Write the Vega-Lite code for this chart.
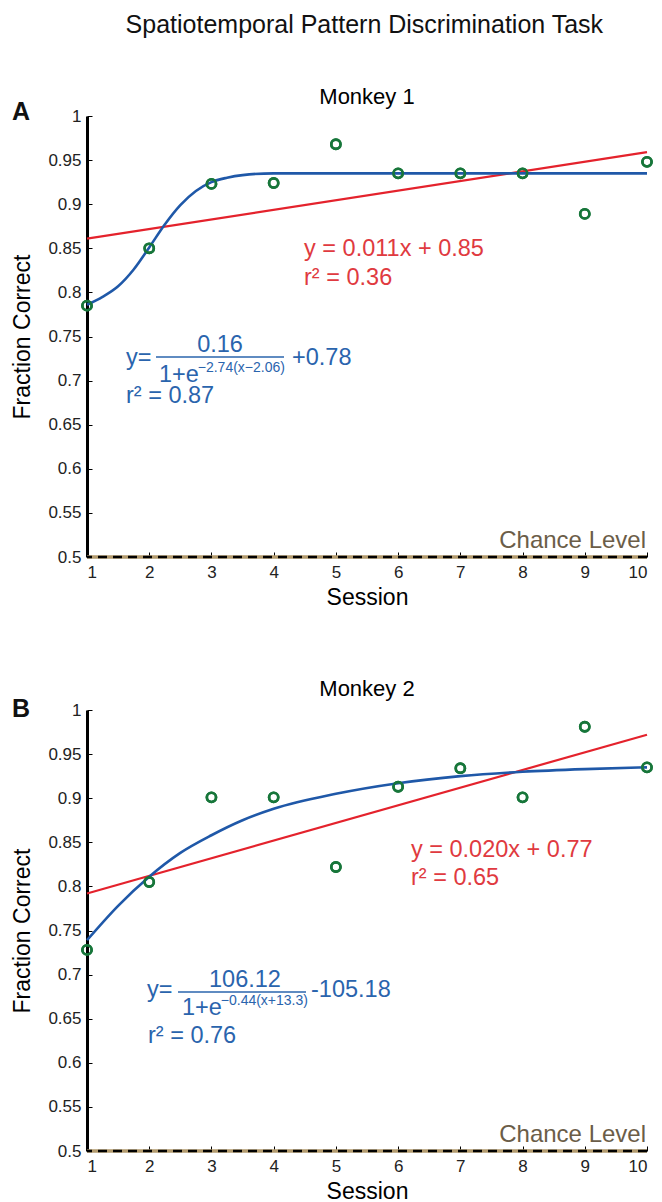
{
  "$schema": "https://vega.github.io/schema/vega-lite/v6.json",
  "background": "white",
  "padding": {"left": 11, "top": 12, "right": 4, "bottom": 2},
  "title": {"text": "Spatiotemporal Pattern Discrimination Task", "font": "Liberation Sans", "fontSize": 25, "fontWeight": "normal", "color": "#111", "offset": 48, "anchor": "middle", "dx": 30},
  "spacing": 69,
  "config": {
    "view": {"stroke": null},
    "font": "Liberation Sans",
    "axis": {"labelFont": "Liberation Sans", "titleFont": "Liberation Sans", "labelFontSize": 17, "titleFontSize": 23, "titleFontWeight": "normal", "labelColor": "#222", "titleColor": "#000", "tickColor": "#000", "tickWidth": 1, "grid": false},
    "axisY": {"domainColor": "#000", "domainWidth": 3, "tickSize": -5, "labelPadding": 11, "titlePadding": 13},
    "axisX": {"domain": false, "tickSize": -5, "labelPadding": 12, "titlePadding": 6},
    "title": {"font": "Liberation Sans", "fontSize": 22, "fontWeight": "normal", "color": "#000"}
  },
  "datasets": {
    "one": [{"k": 1}],
    "m1pts": [
      {"session": 1, "frac": 0.785}, {"session": 2, "frac": 0.85}, {"session": 3, "frac": 0.923},
      {"session": 4, "frac": 0.924}, {"session": 5, "frac": 0.968}, {"session": 6, "frac": 0.935},
      {"session": 7, "frac": 0.935}, {"session": 8, "frac": 0.935}, {"session": 9, "frac": 0.889},
      {"session": 10, "frac": 0.948}
    ],
    "m1sig": [
      {"session": 1, "frac": 0.786}, {"session": 1.25, "frac": 0.795}, {"session": 1.5, "frac": 0.807},
      {"session": 1.75, "frac": 0.826}, {"session": 2, "frac": 0.851}, {"session": 2.25, "frac": 0.877},
      {"session": 2.5, "frac": 0.899}, {"session": 2.75, "frac": 0.915}, {"session": 3, "frac": 0.925},
      {"session": 3.25, "frac": 0.93}, {"session": 3.5, "frac": 0.933}, {"session": 4, "frac": 0.935},
      {"session": 5, "frac": 0.935}, {"session": 6, "frac": 0.935}, {"session": 7, "frac": 0.935},
      {"session": 8, "frac": 0.935}, {"session": 9, "frac": 0.935}, {"session": 10, "frac": 0.935}
    ],
    "m1lin": [{"session": 1, "frac": 0.861}, {"session": 10, "frac": 0.959}],
    "m2pts": [
      {"session": 1, "frac": 0.728}, {"session": 2, "frac": 0.805}, {"session": 3, "frac": 0.901},
      {"session": 4, "frac": 0.901}, {"session": 5, "frac": 0.822}, {"session": 6, "frac": 0.913},
      {"session": 7, "frac": 0.934}, {"session": 8, "frac": 0.901}, {"session": 9, "frac": 0.981},
      {"session": 10, "frac": 0.935}
    ],
    "m2sig": [
      {"session": 1, "frac": 0.739}, {"session": 1.5, "frac": 0.778}, {"session": 2, "frac": 0.811},
      {"session": 2.5, "frac": 0.838}, {"session": 3, "frac": 0.858}, {"session": 3.5, "frac": 0.875},
      {"session": 4, "frac": 0.888}, {"session": 5, "frac": 0.905}, {"session": 6, "frac": 0.917},
      {"session": 7, "frac": 0.925}, {"session": 8, "frac": 0.93}, {"session": 9, "frac": 0.933},
      {"session": 10, "frac": 0.935}
    ],
    "m2lin": [{"session": 1, "frac": 0.792}, {"session": 10, "frac": 0.972}]
  },
  "vconcat": [
    {
      "width": 560, "height": 441,
      "title": {"text": "Monkey 1", "frame": "group", "offset": -9},
      "layer": [
        {"data": {"name": "m1pts"}, "mark": {"type": "point", "shape": "circle", "filled": false, "color": "#17763a", "size": 85, "strokeWidth": 2.6, "opacity": 1},
         "encoding": {
           "x": {"field": "session", "type": "quantitative", "scale": {"domain": [1, 10], "nice": false, "zero": false},
                 "axis": {"title": "Session", "values": [1, 2, 3, 4, 5, 6, 7, 8, 9, 10], "format": "d"}},
           "y": {"field": "frac", "type": "quantitative", "scale": {"domain": [0.5, 1], "nice": false, "zero": false},
                 "axis": {"title": "Fraction Correct", "values": [0.5, 0.55, 0.6, 0.65, 0.7, 0.75, 0.8, 0.85, 0.9, 0.95, 1], "format": "~g"}}
         }},
        {"data": {"name": "one"}, "mark": {"type": "rule", "color": "#b39b6e", "strokeWidth": 3.5},
         "encoding": {"y": {"datum": 0.5}}},
        {"data": {"name": "one"}, "mark": {"type": "rule", "color": "#000", "strokeWidth": 2.5, "strokeDash": [9, 6]},
         "encoding": {"y": {"datum": 0.5}}},
        {"data": {"name": "m1lin"}, "mark": {"type": "line", "color": "#e4222c", "strokeWidth": 2.2},
         "encoding": {"x": {"field": "session", "type": "quantitative"}, "y": {"field": "frac", "type": "quantitative"}}},
        {"data": {"name": "m1sig"}, "mark": {"type": "line", "color": "#1f58a8", "strokeWidth": 2.6, "interpolate": "monotone"},
         "encoding": {"x": {"field": "session", "type": "quantitative"}, "y": {"field": "frac", "type": "quantitative"}}},
        {"data": {"name": "m1pts"}, "mark": {"type": "point", "shape": "circle", "filled": false, "color": "#17763a", "size": 85, "strokeWidth": 2.6, "opacity": 1},
         "encoding": {"x": {"field": "session", "type": "quantitative"}, "y": {"field": "frac", "type": "quantitative"}}},
        {"data": {"name": "one"}, "mark": {"type": "text", "text": "A", "fontSize": 25, "fontWeight": "bold", "align": "center", "baseline": "alphabetic", "color": "#111"},
         "encoding": {"x": {"datum": -0.061}, "y": {"datum": 0.9955}}},
        {"data": {"name": "one"}, "mark": {"type": "text", "text": "y = 0.011x + 0.85", "fontSize": 23.5, "align": "left", "baseline": "alphabetic", "color": "#e03a40"},
         "encoding": {"x": {"datum": 4.488}, "y": {"datum": 0.8413}}},
        {"data": {"name": "one"}, "mark": {"type": "text", "text": "r² = 0.36", "fontSize": 23.5, "align": "left", "baseline": "alphabetic", "color": "#e03a40"},
         "encoding": {"x": {"datum": 4.488}, "y": {"datum": 0.8084}}},
        {"data": {"name": "one"}, "mark": {"type": "text", "text": "y=", "fontSize": 23.5, "align": "left", "baseline": "alphabetic", "color": "#2a64ad"},
         "encoding": {"x": {"datum": 1.627}, "y": {"datum": 0.7177}}},
        {"data": {"name": "one"}, "mark": {"type": "text", "text": "0.16", "fontSize": 23.5, "align": "center", "baseline": "alphabetic", "color": "#2a64ad"},
         "encoding": {"x": {"datum": 3.138}, "y": {"datum": 0.7324}}},
        {"data": {"name": "one"}, "mark": {"type": "rule", "color": "#2a64ad", "strokeWidth": 1.5},
         "encoding": {"x": {"datum": 2.109}, "x2": {"datum": 4.166}, "y": {"datum": 0.7268}}},
        {"data": {"name": "one"}, "mark": {"type": "text", "text": "1+e", "fontSize": 23.5, "align": "left", "baseline": "alphabetic", "color": "#2a64ad"},
         "encoding": {"x": {"datum": 2.157}, "y": {"datum": 0.6985}}},
        {"data": {"name": "one"}, "mark": {"type": "text", "text": "−2.74(x−2.06)", "fontSize": 14, "align": "left", "baseline": "alphabetic", "color": "#2a64ad"},
         "encoding": {"x": {"datum": 2.78}, "y": {"datum": 0.7095}}},
        {"data": {"name": "one"}, "mark": {"type": "text", "text": "+0.78", "fontSize": 23.5, "align": "left", "baseline": "alphabetic", "color": "#2a64ad"},
         "encoding": {"x": {"datum": 4.295}, "y": {"datum": 0.7177}}},
        {"data": {"name": "one"}, "mark": {"type": "text", "text": "r² = 0.87", "fontSize": 23.5, "align": "left", "baseline": "alphabetic", "color": "#2a64ad"},
         "encoding": {"x": {"datum": 1.627}, "y": {"datum": 0.6745}}},
        {"data": {"name": "one"}, "mark": {"type": "text", "text": "Chance Level", "fontSize": 24, "align": "right", "baseline": "alphabetic", "color": "#6b5d48"},
         "encoding": {"x": {"datum": 9.984}, "y": {"datum": 0.5102}}}
      ]
    },
    {
      "width": 560, "height": 441,
      "title": {"text": "Monkey 2", "frame": "group", "offset": -4},
      "layer": [
        {"data": {"name": "m2pts"}, "mark": {"type": "point", "shape": "circle", "filled": false, "color": "#17763a", "size": 85, "strokeWidth": 2.6, "opacity": 1},
         "encoding": {
           "x": {"field": "session", "type": "quantitative", "scale": {"domain": [1, 10], "nice": false, "zero": false},
                 "axis": {"title": "Session", "values": [1, 2, 3, 4, 5, 6, 7, 8, 9, 10], "format": "d"}},
           "y": {"field": "frac", "type": "quantitative", "scale": {"domain": [0.5, 1], "nice": false, "zero": false},
                 "axis": {"title": "Fraction Correct", "values": [0.5, 0.55, 0.6, 0.65, 0.7, 0.75, 0.8, 0.85, 0.9, 0.95, 1], "format": "~g"}}
         }},
        {"data": {"name": "one"}, "mark": {"type": "rule", "color": "#b39b6e", "strokeWidth": 3.5},
         "encoding": {"y": {"datum": 0.5}}},
        {"data": {"name": "one"}, "mark": {"type": "rule", "color": "#000", "strokeWidth": 2.5, "strokeDash": [9, 6]},
         "encoding": {"y": {"datum": 0.5}}},
        {"data": {"name": "m2lin"}, "mark": {"type": "line", "color": "#e4222c", "strokeWidth": 2.2},
         "encoding": {"x": {"field": "session", "type": "quantitative"}, "y": {"field": "frac", "type": "quantitative"}}},
        {"data": {"name": "m2sig"}, "mark": {"type": "line", "color": "#1f58a8", "strokeWidth": 2.6, "interpolate": "monotone"},
         "encoding": {"x": {"field": "session", "type": "quantitative"}, "y": {"field": "frac", "type": "quantitative"}}},
        {"data": {"name": "m2pts"}, "mark": {"type": "point", "shape": "circle", "filled": false, "color": "#17763a", "size": 85, "strokeWidth": 2.6, "opacity": 1},
         "encoding": {"x": {"field": "session", "type": "quantitative"}, "y": {"field": "frac", "type": "quantitative"}}},
        {"data": {"name": "one"}, "mark": {"type": "text", "text": "B", "fontSize": 25, "fontWeight": "bold", "align": "center", "baseline": "alphabetic", "color": "#111"},
         "encoding": {"x": {"datum": -0.061}, "y": {"datum": 0.992}}},
        {"data": {"name": "one"}, "mark": {"type": "text", "text": "y = 0.020x + 0.77", "fontSize": 23.5, "align": "left", "baseline": "alphabetic", "color": "#e03a40"},
         "encoding": {"x": {"datum": 6.207}, "y": {"datum": 0.8333}}},
        {"data": {"name": "one"}, "mark": {"type": "text", "text": "r² = 0.65", "fontSize": 23.5, "align": "left", "baseline": "alphabetic", "color": "#e03a40"},
         "encoding": {"x": {"datum": 6.207}, "y": {"datum": 0.8016}}},
        {"data": {"name": "one"}, "mark": {"type": "text", "text": "y=", "fontSize": 23.5, "align": "left", "baseline": "alphabetic", "color": "#2a64ad"},
         "encoding": {"x": {"datum": 1.964}, "y": {"datum": 0.6746}}},
        {"data": {"name": "one"}, "mark": {"type": "text", "text": "106.12", "fontSize": 23.5, "align": "center", "baseline": "alphabetic", "color": "#2a64ad"},
         "encoding": {"x": {"datum": 3.539}, "y": {"datum": 0.6859}}},
        {"data": {"name": "one"}, "mark": {"type": "rule", "color": "#2a64ad", "strokeWidth": 1.5},
         "encoding": {"x": {"datum": 2.4626}, "x2": {"datum": 4.5197}, "y": {"datum": 0.6803}}},
        {"data": {"name": "one"}, "mark": {"type": "text", "text": "1+e", "fontSize": 23.5, "align": "left", "baseline": "alphabetic", "color": "#2a64ad"},
         "encoding": {"x": {"datum": 2.527}, "y": {"datum": 0.6542}}},
        {"data": {"name": "one"}, "mark": {"type": "text", "text": "−0.44(x+13.3)", "fontSize": 14, "align": "left", "baseline": "alphabetic", "color": "#2a64ad"},
         "encoding": {"x": {"datum": 3.15}, "y": {"datum": 0.6655}}},
        {"data": {"name": "one"}, "mark": {"type": "text", "text": "-105.18", "fontSize": 23.5, "align": "left", "baseline": "alphabetic", "color": "#2a64ad"},
         "encoding": {"x": {"datum": 4.6}, "y": {"datum": 0.6746}}},
        {"data": {"name": "one"}, "mark": {"type": "text", "text": "r² = 0.76", "fontSize": 23.5, "align": "left", "baseline": "alphabetic", "color": "#2a64ad"},
         "encoding": {"x": {"datum": 1.98}, "y": {"datum": 0.6224}}},
        {"data": {"name": "one"}, "mark": {"type": "text", "text": "Chance Level", "fontSize": 24, "align": "right", "baseline": "alphabetic", "color": "#6b5d48"},
         "encoding": {"x": {"datum": 9.984}, "y": {"datum": 0.5102}}}
      ]
    }
  ]
}
